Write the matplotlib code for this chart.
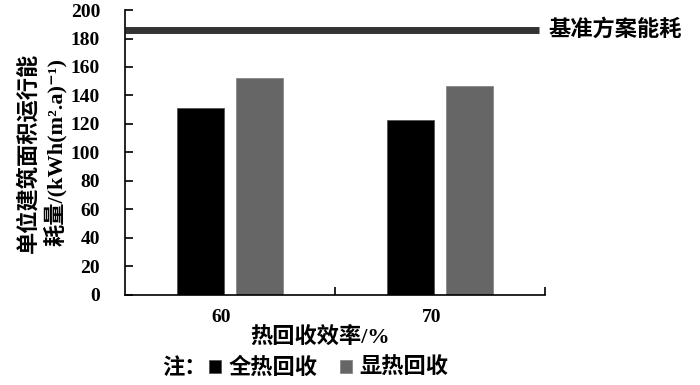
import matplotlib
matplotlib.use("Agg")
import matplotlib.pyplot as plt
import numpy as np

# data
categories = ["60", "70"]
series = ["全热回收", "显热回收"]
full_heat = [131, 123]
sensible_heat = [152.5, 146.5]
baseline = 186
baseline_label = "基准方案能耗"
colors = ["#000000", "#666666"]

# serif for latin glyphs, CJK falls through to Noto
MIX = ["Liberation Serif", "Noto Sans CJK SC", "DejaVu Sans"]
SERIF = "Liberation Serif"
FS = 16

fig = plt.figure(figsize=(7, 3.85), dpi=100)
ax = fig.add_axes([0.1786, 0.234, 0.6, 0.74])

x = np.arange(len(categories))
w = 0.224
off = 0.14
b1 = ax.bar(x - off, full_heat, w, color=colors[0], edgecolor="#555555", linewidth=0.6)
b2 = ax.bar(x + off, sensible_heat, w, color=colors[1], edgecolor="#888888", linewidth=0.6)

ax.set_xlim(-0.5, 1.5)
ax.set_ylim(0, 200)
ax.set_yticks(np.arange(0, 201, 20))
ax.tick_params(axis="y", direction="in", length=6, width=1.2, labelsize=14, pad=18)
for lab in ax.get_yticklabels():
    lab.set_fontfamily(SERIF)
    lab.set_fontweight("bold")

# category boundaries as inward ticks, labels at the centres
ax.set_xticks([0.5, 1.5])
ax.set_xticklabels([])
ax.tick_params(axis="x", which="major", direction="in", length=6, width=1.2)
ax.set_xticks(x - 0.04, minor=True)
ax.set_xticklabels(categories, minor=True, fontfamily=SERIF, fontweight="bold", fontsize=14)
ax.tick_params(axis="x", which="minor", length=0, pad=10)

for s in ["top", "right"]:
    ax.spines[s].set_visible(False)
for s in ["left", "bottom"]:
    ax.spines[s].set_linewidth(1.2)

# baseline line, runs past the axis end
ax.plot([-0.5, 1.47], [baseline, baseline], color="#333333", lw=5, clip_on=False,
        solid_capstyle="butt")
ax.text(1.515, baseline, baseline_label, fontfamily=MIX, fontweight="bold", fontsize=FS,
        va="center", ha="left", clip_on=False)

ax.set_ylabel("单位建筑面积运行能\n耗量/(kWh(m².a)⁻¹)", fontfamily=MIX, fontweight="bold",
              fontsize=FS, linespacing=1.2)
ax.yaxis.set_label_coords(-0.138, 0.5)
ax.set_xlabel("热回收效率/%", fontfamily=MIX, fontweight="bold", fontsize=FS)
ax.xaxis.set_label_coords(0.465, -0.112)

fig.text(0.231, 0.043, "注：", fontfamily=MIX, fontweight="bold", fontsize=FS, va="center")
fig.legend([b1, b2], series, loc="center left", bbox_to_anchor=(0.298, 0.043), ncol=2,
           frameon=False, handlelength=0.55, handleheight=0.55, handletextpad=0.35,
           columnspacing=1.0, borderpad=0, borderaxespad=0,
           prop={"family": MIX, "weight": "bold", "size": FS})

fig.savefig("out.png", dpi=100)
